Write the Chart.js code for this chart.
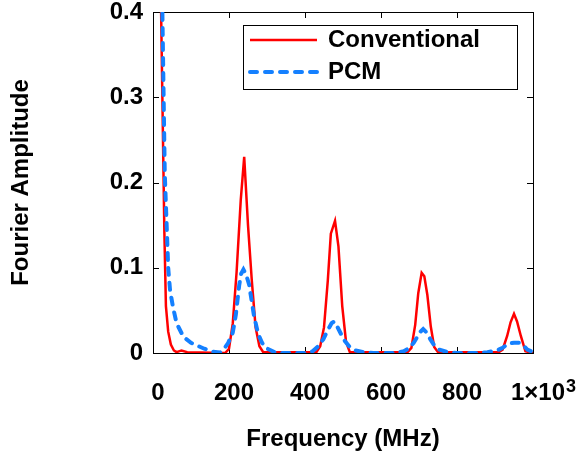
<!DOCTYPE html>
<html>
<head>
<meta charset="utf-8">
<script src="https://cdn.jsdelivr.net/npm/chart.js@4/dist/chart.umd.min.js"></script>
<style>
  html, body { margin: 0; padding: 0; background: #fff; }
  #chart { display: block; }
</style>
</head>
<body>
<canvas id="chart" width="576" height="463"></canvas>
<script>
// values (MHz, amplitude)
const convFreq = [0, 20, 30, 34, 40, 47, 55, 62, 75, 90, 190, 200, 210, 220, 231, 240, 250, 260, 270, 280, 290,
  430, 440, 450, 460, 468, 479, 488, 498, 508, 518, 670, 680, 690, 698, 707, 714, 722, 731, 740, 750,
  910, 920, 932, 941, 950, 958, 968, 980, 1000];
const convAmp = [2.0, 0.44, 0.14, 0.055, 0.025, 0.01, 0.003, 0.001, 0.003, 0.001, 0.0, 0.005, 0.035, 0.095, 0.18, 0.23, 0.15, 0.085, 0.03, 0.008, 0.001,
  0.001, 0.008, 0.03, 0.085, 0.14, 0.155, 0.125, 0.055, 0.013, 0.001, 0.001, 0.006, 0.033, 0.07, 0.094, 0.09, 0.068, 0.031, 0.007, 0.001,
  0.001, 0.004, 0.02, 0.036, 0.046, 0.037, 0.02, 0.002, 0.0];

const pcmFreq = [0, 22, 31, 40, 45, 53, 62, 80, 100, 115, 135, 158, 176, 185, 198, 210, 218, 227, 232, 238, 245, 253, 260, 266, 277, 287, 297, 320, 340,
  400, 420, 435, 448, 460, 470, 477, 486, 495, 505, 518, 532, 555, 580,
  640, 660, 675, 686, 697, 704, 711, 720, 730, 740, 753, 775, 800,
  860, 880, 905, 920, 935, 950, 965, 975, 985, 1000];
const pcmAmp = [2.0, 0.48, 0.21, 0.1, 0.073, 0.053, 0.035, 0.019, 0.012, 0.009, 0.005, 0.0015, 0.0005, 0.0035, 0.012, 0.024, 0.045, 0.08, 0.093, 0.098, 0.092, 0.08, 0.06, 0.043, 0.022, 0.012, 0.006, 0.001, 0.0,
  0.0, 0.002, 0.008, 0.016, 0.027, 0.035, 0.037, 0.03, 0.022, 0.014, 0.007, 0.003, 0.001, 0.0,
  0.0, 0.002, 0.006, 0.012, 0.02, 0.025, 0.028, 0.024, 0.016, 0.009, 0.004, 0.001, 0.0,
  0.0, 0.001, 0.003, 0.006, 0.011, 0.012, 0.012, 0.009, 0.004, 0.001];

const seriesNames = ['Conventional', 'PCM'];
const xTicks = [0, 200, 400, 600, 800, 1000];
const yTicks = [0, 0.1, 0.2, 0.3, 0.4];

const FONT = '"Liberation Sans", Arial, sans-serif';
const RED = 'rgb(255,0,0)';
const BLUE = 'rgb(20,128,255)';
const X_LABEL_SHIFT = 5;

function toPoints(xs, ys) {
  return xs.map((x, i) => ({ x: x, y: ys[i] }));
}

// box round the plot with inward ticks on all four sides
const boxTicks = {
  id: 'boxTicks',
  beforeDatasetsDraw(chart) {
    const { ctx, chartArea: a, scales } = chart;
    const len = 6;
    ctx.save();
    ctx.strokeStyle = '#000';
    ctx.lineWidth = 1;
    ctx.strokeRect(Math.round(a.left) + 0.5, Math.round(a.top) + 0.5,
      Math.round(a.right - a.left), Math.round(a.bottom - a.top));
    ctx.beginPath();
    xTicks.forEach(v => {
      const px = Math.round(scales.x.getPixelForValue(v)) + 0.5;
      ctx.moveTo(px, a.bottom); ctx.lineTo(px, a.bottom - len);
      ctx.moveTo(px, a.top); ctx.lineTo(px, a.top + len);
    });
    yTicks.forEach(v => {
      const py = Math.round(scales.y.getPixelForValue(v)) + 0.5;
      ctx.moveTo(a.left, py); ctx.lineTo(a.left + len, py);
      ctx.moveTo(a.right, py); ctx.lineTo(a.right - len, py);
    });
    ctx.stroke();
    ctx.restore();
  }
};

// legend box and the x10^3 exponent
const extras = {
  id: 'extras',
  afterDraw(chart) {
    const { ctx, scales } = chart;
    ctx.save();

    // exponent next to the last x label
    ctx.font = 'bold 24px ' + FONT;
    const w = ctx.measureText('1×10').width;
    const px = scales.x.getPixelForValue(1000) + X_LABEL_SHIFT;
    ctx.font = 'bold 18px ' + FONT;
    ctx.fillStyle = '#000';
    ctx.textAlign = 'left';
    ctx.textBaseline = 'alphabetic';
    ctx.fillText('3', px + w / 2 + 1, 392);

    // legend
    const bx = 243, by = 25, bw = 274, bh = 64;
    ctx.fillStyle = '#fff';
    ctx.fillRect(bx, by, bw, bh);
    ctx.strokeStyle = '#000';
    ctx.lineWidth = 1;
    ctx.strokeRect(bx + 0.5, by + 0.5, bw, bh);

    const rows = [
      { y: 40, color: RED, width: 2.5, dash: [] },
      { y: 72, color: BLUE, width: 4, dash: [7, 8] }
    ];
    rows.forEach((r, i) => {
      ctx.beginPath();
      ctx.strokeStyle = r.color;
      ctx.lineWidth = r.width;
      ctx.setLineDash(r.dash);
      ctx.lineCap = r.dash.length ? 'round' : 'butt';
      ctx.moveTo(250, r.y);
      ctx.lineTo(317, r.y);
      ctx.stroke();
      ctx.setLineDash([]);
      ctx.fillStyle = '#000';
      ctx.font = 'bold 24px ' + FONT;
      ctx.textBaseline = 'middle';
      ctx.fillText(seriesNames[i], 328, r.y);
    });
    ctx.restore();
  }
};

new Chart(document.getElementById('chart'), {
  type: 'line',
  data: {
    datasets: [
      {
        label: seriesNames[0],
        data: toPoints(convFreq, convAmp),
        borderColor: RED,
        borderWidth: 2.5,
        pointRadius: 0,
        tension: 0,
        order: 2
      },
      {
        label: seriesNames[1],
        data: toPoints(pcmFreq, pcmAmp),
        borderColor: BLUE,
        borderWidth: 4,
        borderDash: [7, 8],
        borderCapStyle: 'round',
        pointRadius: 0,
        tension: 0,
        order: 1
      }
    ]
  },
  options: {
    responsive: false,
    animation: false,
    devicePixelRatio: 1,
    layout: { padding: { top: 12, right: 43, left: 0, bottom: 0 } },
    plugins: { legend: { display: false }, tooltip: { enabled: false } },
    scales: {
      x: {
        type: 'linear',
        min: 0,
        max: 1000,
        afterBuildTicks: s => { s.ticks = xTicks.map(v => ({ value: v })); },
        afterFit: s => {
          s.height = 110;
          s.paddingLeft = 0; s.paddingRight = 0;
          s.paddingTop = 0; s.paddingBottom = 0;
        },
        grid: { display: false, drawTicks: false },
        border: { display: false },
        ticks: {
          autoSkip: false,
          maxRotation: 0,
          padding: 28,
          labelOffset: X_LABEL_SHIFT,
          color: '#000',
          font: { family: FONT, size: 24, weight: 'bold', lineHeight: 1 },
          callback: v => (v === 1000 ? '1×10' : String(v))
        },
        title: {
          display: true,
          text: 'Frequency (MHz)',
          color: '#000',
          padding: { top: 0, bottom: 12 },
          font: { family: FONT, size: 24, weight: 'bold', lineHeight: 1 }
        }
      },
      y: {
        min: 0,
        max: 0.4,
        afterBuildTicks: s => { s.ticks = yTicks.map(v => ({ value: v })); },
        afterFit: s => {
          s.width = 153;
          s.paddingLeft = 0; s.paddingRight = 0;
          s.paddingTop = 0; s.paddingBottom = 0;
        },
        grid: { display: false, drawTicks: false },
        border: { display: false },
        ticks: {
          padding: 10,
          color: '#000',
          font: { family: FONT, size: 24, weight: 'bold', lineHeight: 1 },
          callback: v => (v === 0 ? '0' : v.toFixed(1))
        },
        title: {
          display: true,
          text: 'Fourier Amplitude',
          color: '#000',
          padding: { top: 9, bottom: 0 },
          font: { family: FONT, size: 24, weight: 'bold', lineHeight: 1 }
        }
      }
    }
  },
  plugins: [boxTicks, extras]
});
</script>
</body>
</html>
